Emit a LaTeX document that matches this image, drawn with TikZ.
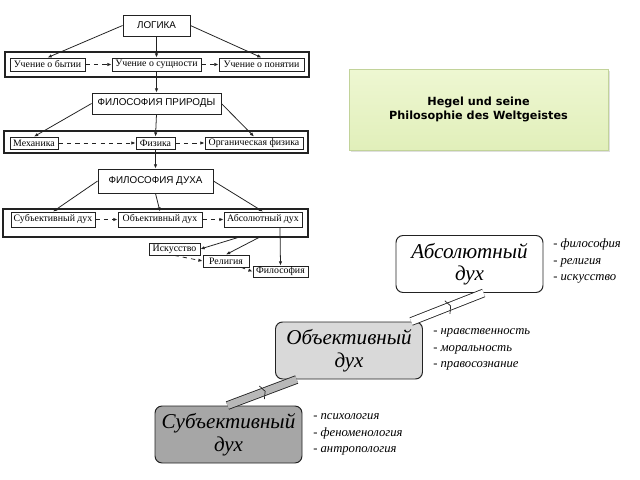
\documentclass[tikz,border=0pt]{standalone}
\usepackage{fontspec}
\setmainfont{Liberation Serif}
\setsansfont{Liberation Sans}
\newfontfamily\titlefont{DejaVu Sans}
\usepackage{tikz}
\usetikzlibrary{positioning,shapes,arrows.meta,decorations.markings,shadows}
\newlength{\pxu}
\setlength{\pxu}{0.025cm}
\definecolor{paleleaf}{HTML}{EEF7D2}
\definecolor{leaf}{HTML}{E1EFBA}
\definecolor{leafline}{HTML}{C2D39A}
\definecolor{midgray}{HTML}{D9D9D9}
\definecolor{darkgray}{HTML}{A6A6A6}
\definecolor{ink}{HTML}{222222}
\tikzset{
  frame/.style={draw=ink,line width=0.75pt,inner sep=0pt},
  box/.style={draw=ink,line width=0.6pt,inner sep=0pt,fill=white,font=\fontsize{7}{8}\selectfont},
  head/.style={draw=ink,line width=0.6pt,inner sep=0pt,fill=white,font=\sffamily\fontsize{7}{8}\selectfont},
  arr/.style={-{Latex[length=3pt,width=2.4pt]},line width=0.55pt,draw=ink},
  darr/.style={arr,dash pattern=on 3pt off 3pt},
  spirit/.style={draw=ink,line width=0.7pt,rounded corners=5pt,inner sep=0pt,align=center,
    minimum width=147\pxu,minimum height=57\pxu,font=\itshape\fontsize{15}{16}\selectfont},
  notes/.style={anchor=west,align=left,inner sep=0pt,font=\itshape\fontsize{9}{11.5}\selectfont},
  band/.style={draw=ink,line width=0.6pt,double distance=5pt,
    decoration={markings,mark=at position 0.55 with {\arrow[ink,line width=0.5pt]{Straight Barb[length=2.5pt,width=10pt]}}},
    postaction=decorate}
}
\begin{document}
\begin{tikzpicture}[x=1\pxu,y=-1\pxu]
\fill[white] (0,0) rectangle (640,480);
\useasboundingbox (0,0) rectangle (640,480);

\node[frame,minimum width=304\pxu,minimum height=25\pxu] (row1) at (157,64.5) {};
\node[head,minimum width=67\pxu,minimum height=21\pxu] (logika) at (156.5,25.5) {ЛОГИКА};
\node[box,minimum width=75\pxu,minimum height=13\pxu] (ub) at (47.5,64.5) {Учение о бытии};
\node[box,minimum width=89\pxu,minimum height=13\pxu] (us) at (156.5,64.5) {Учение о сущности};
\node[box,minimum width=85\pxu,minimum height=13\pxu] (up) at (261.5,64.5) {Учение о понятии};

\node[frame,minimum width=304\pxu,minimum height=22\pxu] (row2) at (156,142) {};
\node[head,minimum width=129\pxu,minimum height=21\pxu] (priroda) at (156.5,103.5) {ФИЛОСОФИЯ ПРИРОДЫ};
\node[box,minimum width=48\pxu,minimum height=12\pxu] (mech) at (34,143) {Механика};
\node[box,minimum width=39\pxu,minimum height=12\pxu] (fiz) at (155.5,143) {Физика};
\node[box,minimum width=98\pxu,minimum height=12\pxu] (org) at (254,143) {Органическая физика};

\node[frame,minimum width=305\pxu,minimum height=28\pxu] (row3) at (155.5,223) {};
\node[head,minimum width=115\pxu,minimum height=24\pxu] (duh) at (155.5,181) {ФИЛОСОФИЯ ДУХА};
\node[box,minimum width=84\pxu,minimum height=15\pxu] (subj) at (53,219.5) {Субъективный дух};
\node[box,minimum width=84\pxu,minimum height=15\pxu] (obj) at (160,219.5) {Объективный дух};
\node[box,minimum width=78\pxu,minimum height=15\pxu] (abs) at (263,219.5) {Абсолютный дух};
\node[box,minimum width=51\pxu,minimum height=12\pxu] (isk) at (174.5,249) {Искусство};
\node[box,minimum width=46\pxu,minimum height=12\pxu] (rel) at (226,261) {Религия};
\node[box,minimum width=55\pxu,minimum height=11\pxu] (fil) at (280.5,271.5) {Философия};

\draw[arr] (logika.west) -- (ub.north);
\draw[arr] (logika.south) -- (us.north);
\draw[arr] (logika.east) -- (up.north);
\draw[darr] (ub.east) -- (us.west);
\draw[darr] (us.east) -- (up.west);
\draw[arr] (us.south) -- (priroda.north);
\draw[arr] (priroda.west) -- (mech.north);
\draw[arr] (priroda.south) -- (fiz.north);
\draw[arr] (priroda.east) -- (org.north);
\draw[darr] (mech.east) -- (fiz.west);
\draw[darr] (fiz.east) -- (org.west);
\draw[arr] (fiz.south) -- (duh.north);
\draw[arr] (duh.west) -- (subj.north);
\draw[arr] (duh.south) -- (obj.north);
\draw[arr] (duh.east) -- (abs.north);
\draw[darr] (subj.east) -- (obj.west);
\draw[darr] (obj.east) -- (abs.west);
\draw[arr] (row3.-10.4) -- (isk.east);
\draw[arr] (row3.-8.6) -- (rel.north);
\draw[arr] (abs.-25) -- (fil.north);
\draw[darr] (isk.south) -- (rel.west);
\draw[darr] (rel.-23) -- (fil.west);

\node[draw=leafline,line width=0.6pt,top color=paleleaf,bottom color=leaf,
  drop shadow={shadow xshift=1.2pt,shadow yshift=-1.2pt,opacity=0.25},
  minimum width=259\pxu,minimum height=81\pxu,align=center,
  font=\titlefont\bfseries\fontsize{8}{10}\selectfont] (title) at (478.5,109.5)
  {Hegel und seine\\Philosophie des Weltgeistes};

\node[spirit,fill=white] (absd) at (469.5,264) {Абсолютный\\дух};
\node[spirit,fill=midgray] (objd) at (349,350.5) {Объективный\\дух};
\node[spirit,fill=darkgray] (subd) at (228.5,434.5) {Субъективный\\дух};
\node[notes] (absn) at (553,261) {- философия\\- религия\\- искусство};
\node[notes] (objn) at (433,349.5) {- нравственность\\- моральность\\- правосознание};
\node[notes] (subn) at (313,434.5) {- психология\\- феноменология\\- антропология};

\draw[band,double=darkgray!80] (subd.92) -- (objd.209);
\draw[band,double=white] (objd.25) -- (absd.-64);
\end{tikzpicture}
\end{document}
